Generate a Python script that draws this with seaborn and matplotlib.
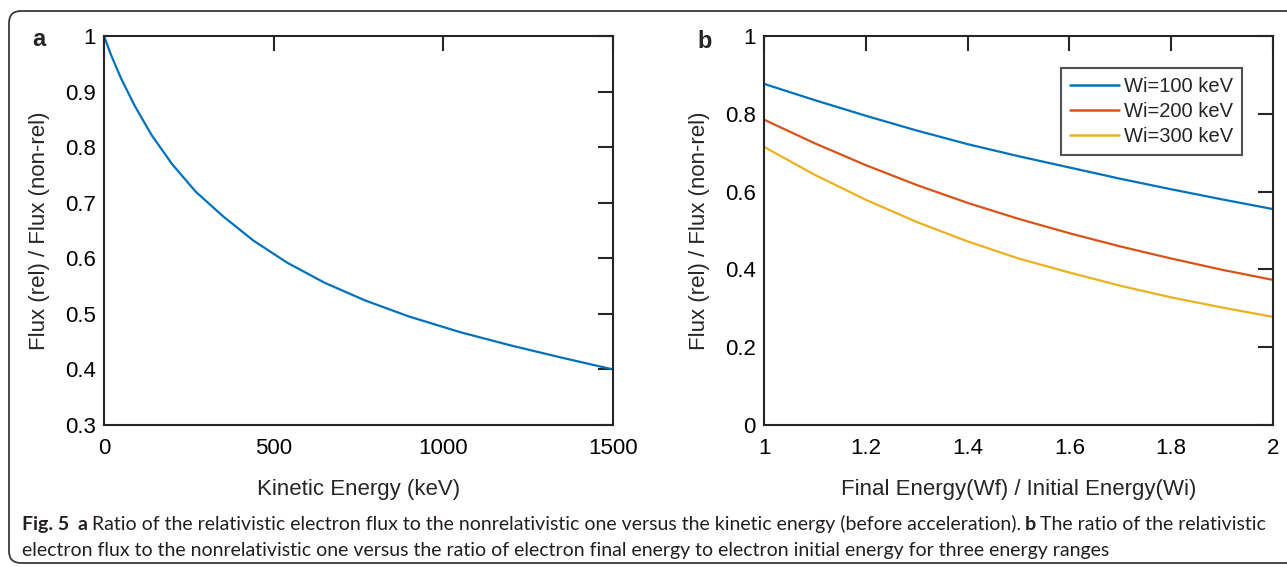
import matplotlib
matplotlib.use("Agg")
import matplotlib.pyplot as plt
import seaborn as sns
import pandas as pd
from matplotlib.patches import FancyBboxPatch
from matplotlib.transforms import IdentityTransform

# ---------------- data ----------------
energy_kev = [0, 20, 50, 90, 140, 200, 270, 350, 440, 540, 650, 770, 900,
              1050, 1200, 1350, 1500]
flux_ratio_a = [1.0, 0.967, 0.924, 0.875, 0.822, 0.77, 0.72, 0.676, 0.632, 0.592,
                0.556, 0.524, 0.495, 0.467, 0.443, 0.421, 0.400]

energy_ratio = [1.0, 1.1, 1.2, 1.3, 1.4, 1.5, 1.6, 1.7, 1.8, 1.9, 2.0]
flux_wi100 = [0.877, 0.835, 0.795, 0.757, 0.722, 0.691, 0.662, 0.633, 0.606, 0.580, 0.555]
flux_wi200 = [0.785, 0.724, 0.668, 0.617, 0.571, 0.530, 0.493, 0.459, 0.428, 0.399, 0.373]
flux_wi300 = [0.715, 0.643, 0.579, 0.522, 0.472, 0.428, 0.392, 0.358, 0.328, 0.302, 0.278]

series_labels = ["Wi=100 keV", "Wi=200 keV", "Wi=300 keV"]
series_colors = ["#0072BD", "#D95319", "#EDB120"]

a_xticks = [0, 500, 1000, 1500]
a_xticklabels = ["0", "500", "1000", "1500"]
a_yticks = [0.3, 0.4, 0.5, 0.6, 0.7, 0.8, 0.9, 1.0]
a_yticklabels = ["0.3", "0.4", "0.5", "0.6", "0.7", "0.8", "0.9", "1"]
b_xticks = [1.0, 1.2, 1.4, 1.6, 1.8, 2.0]
b_xticklabels = ["1", "1.2", "1.4", "1.6", "1.8", "2"]
b_yticks = [0.0, 0.2, 0.4, 0.6, 0.8, 1.0]
b_yticklabels = ["0", "0.2", "0.4", "0.6", "0.8", "1"]

caption_line1 = [("Fig. 5", "bold", 0),
                 ("a", "bold", 6),
                 ("Ratio of the relativistic electron flux to the nonrelativistic one versus the kinetic energy (before acceleration).", "normal", 3),
                 ("b", "bold", 3),
                 ("The ratio of the relativistic", "normal", 3)]
caption_line2 = [("electron flux to the nonrelativistic one versus the ratio of electron final energy to electron initial energy for three energy ranges", "normal", 0)]

# ---------------- style ----------------
sns.set_theme(style="white")
plt.rcParams["font.family"] = ["Liberation Sans", "DejaVu Sans"]
plt.rcParams["axes.edgecolor"] = "#262626"
plt.rcParams["axes.linewidth"] = 1.5

W, H = 1287, 567
fig = plt.figure(figsize=(W / 100, H / 100), dpi=100)
fig.patch.set_facecolor("white")

def px_axes(l, r, t, b):
    return fig.add_axes([l / W, 1 - b / H, (r - l) / W, (b - t) / H])

axa = px_axes(104, 613, 36, 425)
axb = px_axes(764, 1273, 36, 425)

df_a = pd.DataFrame({"energy": energy_kev, "ratio": flux_ratio_a})
sns.lineplot(data=df_a, x="energy", y="ratio", ax=axa, color=series_colors[0],
             linewidth=1.6)

df_b = pd.concat([
    pd.DataFrame({"x": energy_ratio, "y": vals, "series": lab})
    for vals, lab in zip([flux_wi100, flux_wi200, flux_wi300], series_labels)
])
sns.lineplot(data=df_b, x="x", y="y", hue="series", palette=series_colors,
             hue_order=series_labels, ax=axb, linewidth=1.6)

def style_axes(ax, xt, xtl, yt, ytl, xlim, ylim, xlabel):
    ax.set_xlim(*xlim)
    ax.set_ylim(*ylim)
    ax.set_xticks(xt)
    ax.set_xticklabels(xtl)
    ax.set_yticks(yt)
    ax.set_yticklabels(ytl)
    ax.tick_params(direction="in", top=True, right=True, length=11, width=1.5,
                   labelsize=16, colors="#262626")
    ax.tick_params(axis="x", pad=9, labelcolor="black")
    ax.tick_params(axis="y", pad=6, labelcolor="black")
    ax.set_xlabel(xlabel, fontsize=16, labelpad=15)
    ax.set_ylabel("Flux (rel) / Flux (non-rel)", fontsize=16, labelpad=11)
    for s in ax.spines.values():
        s.set_visible(True)
        s.set_linewidth(1.5)
        s.set_color("#262626")

style_axes(axa, a_xticks, a_xticklabels, a_yticks, a_yticklabels, (0, 1500), (0.3, 1.0),
           "Kinetic Energy (keV)")
style_axes(axb, b_xticks, b_xticklabels, b_yticks, b_yticklabels, (1, 2), (0, 1),
           "Final Energy(Wf) / Initial Energy(Wi)")

handles, labels = axb.get_legend_handles_labels()
leg = axb.legend(handles, labels, loc="upper right", bbox_to_anchor=(0.939, 0.918),
                 borderaxespad=0, fontsize=14.5, frameon=True, fancybox=False,
                 handlelength=2.4, handletextpad=0.25, labelspacing=0.3,
                 borderpad=0.45)
leg.get_frame().set_edgecolor("#262626")
leg.get_frame().set_linewidth(1.5)
for ln in leg.get_lines():
    ln.set_linewidth(1.8)

# panel letters
fig.text(32 / W, 1 - 40 / H, "a", fontsize=17, fontweight="bold", va="center", ha="left")
fig.text(697 / W, 1 - 42 / H, "b", fontsize=17, fontweight="bold", va="center", ha="left")

# caption
cap = fig.add_axes([0, 0, 1, 1], zorder=-1)
cap.axis("off")
cap.set_xlim(0, 1)
cap.set_ylim(0, 1)

def rich_line(x_px, y_px, parts, size=14.0, family="Lato"):
    prev = None
    for txt, weight, gap in parts:
        if prev is None:
            prev = cap.text(x_px / W, 1 - y_px / H, txt, fontsize=size, fontweight=weight,
                            family=family, va="bottom", ha="left", color="#231f20")
        else:
            prev = cap.annotate(txt, xy=(1, 0), xycoords=prev, xytext=(gap, 0),
                                textcoords="offset points", fontsize=size,
                                fontweight=weight, family=family, va="bottom",
                                ha="left", color="#231f20")

rich_line(22, 533, caption_line1)
rich_line(22, 559, caption_line2)

# rounded frame around the figure
frame = FancyBboxPatch((9, 4), 1320, 552, boxstyle="round,pad=0,rounding_size=12",
                       transform=IdentityTransform(), facecolor="none",
                       edgecolor="#3a3a3a", linewidth=1.3)
fig.add_artist(frame)

fig.savefig("out.png", dpi=100)
